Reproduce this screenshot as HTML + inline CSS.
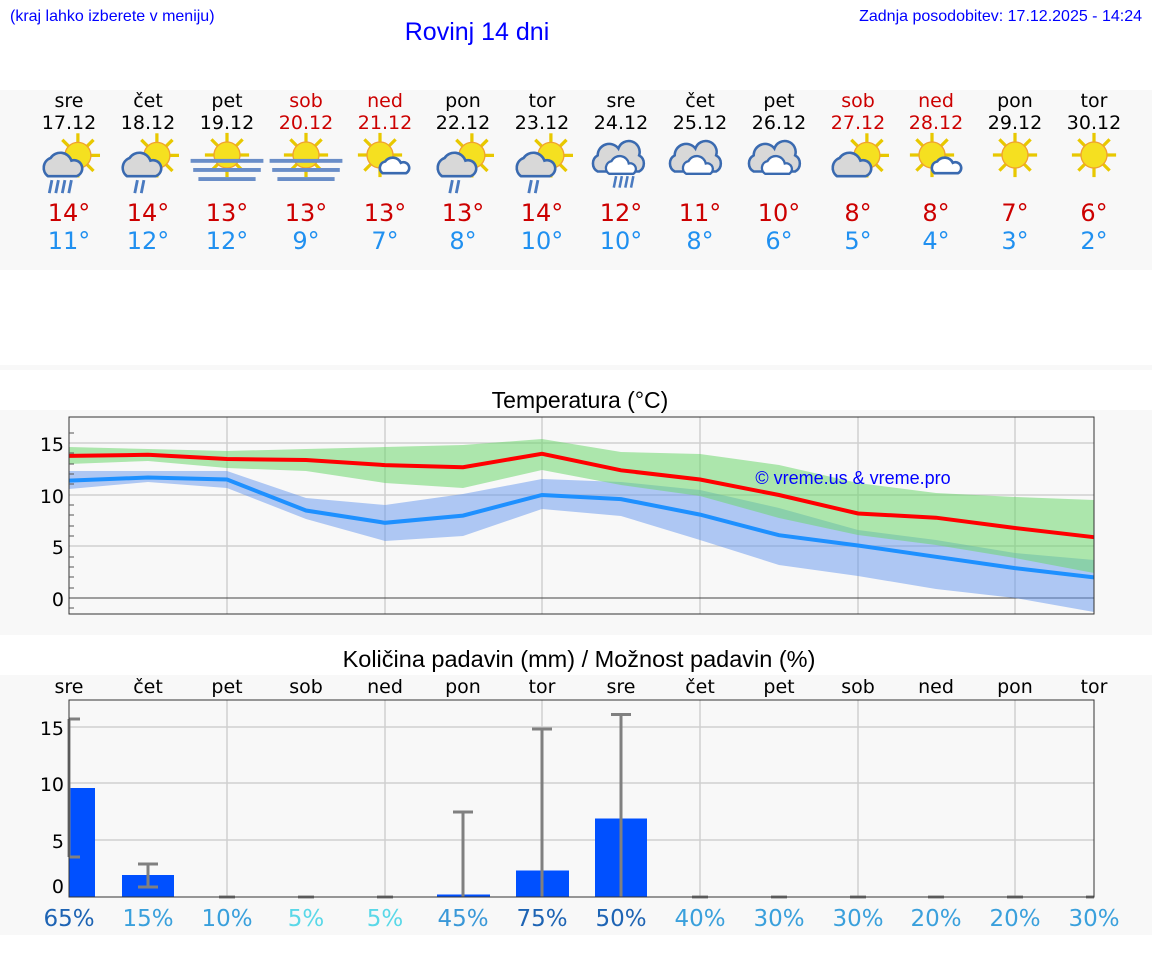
<!DOCTYPE html>
<html><head><meta charset="utf-8"><style>
body{margin:0;background:#fff;width:1152px;height:975px;overflow:hidden}
svg{display:block}
text{font-family:"DejaVu Sans","Liberation Sans",sans-serif}
</style></head><body>
<svg width="1152" height="975" viewBox="0 0 1152 975" xmlns="http://www.w3.org/2000/svg">
<defs>
<g id="sun"><g stroke="#e8c800" stroke-width="2.5"><line x1="0" y1="-17" x2="0" y2="17"/><line x1="-17" y1="0" x2="17" y2="0"/><line x1="-12" y1="-12" x2="12" y2="12"/><line x1="-12" y1="12" x2="12" y2="-12"/></g><circle r="10" fill="#f5e020" stroke="#f0a030" stroke-width="1"/></g>
<g id="cloudS"><path d="M-14,8 a8,8 0 0 1 2,-14 a9,9 0 0 1 16,2 a6,6 0 0 1 4,12 z" fill="#d8d8d8" stroke="#3a6ab0" stroke-width="2"/></g>
<g id="cloudB"><path d="M-22,10 a8,8 0 0 1 0,-14 a10,10 0 0 1 18,-6 a9,9 0 0 1 18,6 a8,8 0 0 1 0,14 z" fill="#d8d8d8" stroke="#3a6ab0" stroke-width="2.2"/><path d="M-12,12 a6,6 0 0 1 2,-11 a8,8 0 0 1 15,2 a5,5 0 0 1 4,9 z" fill="#fff" stroke="#3a6ab0" stroke-width="2"/></g>
<g id="cloudW"><path d="M-10,6 a5,5 0 0 1 2,-9 a7,7 0 0 1 12,1 a4,4 0 0 1 4,8 z" fill="#fff" stroke="#3a6ab0" stroke-width="2"/></g>
<g id="fog" fill="#6a8ec8"><rect x="-28" y="3" width="56" height="3"/><rect x="-26" y="10" width="52" height="3"/><rect x="-22" y="17" width="44" height="3"/></g>
<g id="rain" stroke="#4a7ac0" stroke-width="2.2"><line x1="-8" y1="12" x2="-10" y2="22"/><line x1="-3" y1="12" x2="-5" y2="22"/><line x1="2" y1="12" x2="0" y2="22"/><line x1="7" y1="12" x2="5" y2="22"/></g>
<g id="rain2" stroke="#4a7ac0" stroke-width="2.2"><line x1="-5" y1="12" x2="-7" y2="22"/><line x1="0" y1="12" x2="-2" y2="22"/></g>
</defs>
<rect x="0" y="90" width="1152" height="180" fill="#f8f8f8"/>
<rect x="0" y="365" width="1152" height="5" fill="#f8f8f8"/>
<rect x="0" y="410" width="1152" height="225" fill="#f8f8f8"/>
<rect x="0" y="675" width="1152" height="260" fill="#f8f8f8"/>
<text x="10" y="21" font-size="16" fill="#0000ff" style="font-family:'Liberation Sans',sans-serif">(kraj lahko izberete v meniju)</text>
<text x="477" y="40" font-size="25" fill="#0000ff" text-anchor="middle" style="font-family:'Liberation Sans',sans-serif">Rovinj 14 dni</text>
<text x="1142" y="21" font-size="16" fill="#0000ff" text-anchor="end" style="font-family:'Liberation Sans',sans-serif">Zadnja posodobitev: 17.12.2025 - 14:24</text>
<g font-size="19" text-anchor="middle">
<text x="69" y="107">sre</text><text x="148" y="107">čet</text><text x="227" y="107">pet</text><text x="306" y="107" fill="#cc0000">sob</text><text x="385" y="107" fill="#cc0000">ned</text><text x="463" y="107">pon</text><text x="542" y="107">tor</text><text x="621" y="107">sre</text><text x="700" y="107">čet</text><text x="779" y="107">pet</text><text x="858" y="107" fill="#cc0000">sob</text><text x="936" y="107" fill="#cc0000">ned</text><text x="1015" y="107">pon</text><text x="1094" y="107">tor</text>
<text x="69" y="129">17.12</text><text x="148" y="129">18.12</text><text x="227" y="129">19.12</text><text x="306" y="129" fill="#cc0000">20.12</text><text x="385" y="129" fill="#cc0000">21.12</text><text x="463" y="129">22.12</text><text x="542" y="129">23.12</text><text x="621" y="129">24.12</text><text x="700" y="129">25.12</text><text x="779" y="129">26.12</text><text x="858" y="129" fill="#cc0000">27.12</text><text x="936" y="129" fill="#cc0000">28.12</text><text x="1015" y="129">29.12</text><text x="1094" y="129">30.12</text>
</g>
<g transform="translate(74,158) scale(1.3)"><use href="#sun" x="3" y="-2"/><use href="#cloudS" x="-6" y="6"/><use href="#rain" x="-9" y="5"/></g>
<g transform="translate(153,158) scale(1.3)"><use href="#sun" x="3" y="-2"/><use href="#cloudS" x="-6" y="6"/><use href="#rain2" x="-7" y="5"/></g>
<g transform="translate(227,155) scale(1.3)"><use href="#sun"/><use href="#fog"/></g>
<g transform="translate(306,155) scale(1.3)"><use href="#sun"/><use href="#fog"/></g>
<g transform="translate(380,155) scale(1.3)"><use href="#sun"/><use href="#cloudW" x="12" y="8"/></g>
<g transform="translate(468,158) scale(1.3)"><use href="#sun" x="3" y="-2"/><use href="#cloudS" x="-6" y="6"/><use href="#rain2" x="-7" y="5"/></g>
<g transform="translate(547,158) scale(1.3)"><use href="#sun" x="3" y="-2"/><use href="#cloudS" x="-6" y="6"/><use href="#rain2" x="-7" y="5"/></g>
<g transform="translate(623,160) scale(1.15)"><use href="#cloudB"/><use href="#rain" x="2" y="2"/></g>
<g transform="translate(700,160) scale(1.15)"><use href="#cloudB"/></g>
<g transform="translate(779,160) scale(1.15)"><use href="#cloudB"/></g>
<g transform="translate(863,158) scale(1.3)"><use href="#sun" x="3" y="-2"/><use href="#cloudS" x="-6" y="6"/></g>
<g transform="translate(932,155) scale(1.3)"><use href="#sun"/><use href="#cloudW" x="12" y="8"/></g>
<g transform="translate(1015,155) scale(1.3)"><use href="#sun"/></g>
<g transform="translate(1094,155) scale(1.3)"><use href="#sun"/></g>
<g font-size="24" text-anchor="middle" fill="#cc0000">
<text x="69" y="221">14°</text><text x="148" y="221">14°</text><text x="227" y="221">13°</text><text x="306" y="221">13°</text><text x="385" y="221">13°</text><text x="463" y="221">13°</text><text x="542" y="221">14°</text><text x="621" y="221">12°</text><text x="700" y="221">11°</text><text x="779" y="221">10°</text><text x="858" y="221">8°</text><text x="936" y="221">8°</text><text x="1015" y="221">7°</text><text x="1094" y="221">6°</text>
</g>
<g font-size="24" text-anchor="middle" fill="#2090f0">
<text x="69" y="249">11°</text><text x="148" y="249">12°</text><text x="227" y="249">12°</text><text x="306" y="249">9°</text><text x="385" y="249">7°</text><text x="463" y="249">8°</text><text x="542" y="249">10°</text><text x="621" y="249">10°</text><text x="700" y="249">8°</text><text x="779" y="249">6°</text><text x="858" y="249">5°</text><text x="936" y="249">4°</text><text x="1015" y="249">3°</text><text x="1094" y="249">2°</text>
</g>
<text x="580" y="408" font-size="23" text-anchor="middle" style="font-family:'Liberation Sans',sans-serif">Temperatura (°C)</text>
<g stroke="#cfcfcf" stroke-width="1.5">
<line x1="69" y1="443" x2="1094" y2="443"/><line x1="69" y1="495" x2="1094" y2="495"/><line x1="69" y1="546" x2="1094" y2="546"/>
<line x1="227" y1="417" x2="227" y2="614"/><line x1="385" y1="417" x2="385" y2="614"/><line x1="542" y1="417" x2="542" y2="614"/><line x1="700" y1="417" x2="700" y2="614"/><line x1="858" y1="417" x2="858" y2="614"/><line x1="1015" y1="417" x2="1015" y2="614"/>
</g>
<line x1="69" y1="598" x2="1094" y2="598" stroke="#444" stroke-width="1"/>
<polygon fill="rgb(100,149,237)" fill-opacity="0.5" points="69,471 148,471 227,471 306,498 385,505 463,494 542,479 621,482 700,490 779,508 858,530 936,540 1015,553 1094,560 1094,612 1015,598 936,589 858,576 779,565 700,540 621,516 542,509 463,536 385,541 306,519 227,488 148,482 69,489"/>
<polygon fill="rgb(110,215,110)" fill-opacity="0.55" points="69,447 148,449 227,451 306,449 385,447 463,445 542,439 621,452 700,454 779,465 858,483 936,493 1015,497 1094,500 1094,573 1015,558 936,545 858,535 779,518 700,496 621,485 542,470 463,488 385,483 306,471 227,468 148,461 69,464"/>
<polyline fill="none" stroke="#ff0000" stroke-width="4" points="69,455.9 148,454.8 227,459 306,460 385,465.1 463,467.2 542,453.8 621,470.3 700,479.5 779,495 858,513.5 936,517.7 1015,528 1094,537.2"/>
<polyline fill="none" stroke="#1e90ff" stroke-width="4" points="69,480.6 148,477.5 227,479.5 306,510.5 385,522.8 463,515.6 542,495 621,499.1 700,514.6 779,535.2 858,545.5 936,556.8 1015,568.1 1094,577.4"/>
<text x="853" y="484" font-size="18" fill="#0000ff" text-anchor="middle" style="font-family:'Liberation Sans',sans-serif">© vreme.us &amp; vreme.pro</text>
<rect x="69" y="417" width="1025" height="197" fill="none" stroke="#333" stroke-width="1"/>
<g stroke="#555" stroke-width="1">
<line x1="69" y1="433" x2="74" y2="433"/><line x1="69" y1="453" x2="74" y2="453"/><line x1="69" y1="464" x2="74" y2="464"/><line x1="69" y1="474" x2="74" y2="474"/><line x1="69" y1="484" x2="74" y2="484"/><line x1="69" y1="505" x2="74" y2="505"/><line x1="69" y1="515" x2="74" y2="515"/><line x1="69" y1="526" x2="74" y2="526"/><line x1="69" y1="536" x2="74" y2="536"/><line x1="69" y1="557" x2="74" y2="557"/><line x1="69" y1="567" x2="74" y2="567"/><line x1="69" y1="577" x2="74" y2="577"/><line x1="69" y1="588" x2="74" y2="588"/><line x1="69" y1="608" x2="74" y2="608"/>
</g>
<g font-size="19" text-anchor="end"><text x="64" y="451">15</text><text x="64" y="503">10</text><text x="64" y="554">5</text><text x="64" y="606">0</text></g>
<text x="579" y="667" font-size="23.5" text-anchor="middle" style="font-family:'Liberation Sans',sans-serif">Količina padavin (mm) / Možnost padavin (%)</text>
<g font-size="19" text-anchor="middle">
<text x="69" y="693">sre</text><text x="148" y="693">čet</text><text x="227" y="693">pet</text><text x="306" y="693">sob</text><text x="385" y="693">ned</text><text x="463" y="693">pon</text><text x="542" y="693">tor</text><text x="621" y="693">sre</text><text x="700" y="693">čet</text><text x="779" y="693">pet</text><text x="858" y="693">sob</text><text x="936" y="693">ned</text><text x="1015" y="693">pon</text><text x="1094" y="693">tor</text>
</g>
<g stroke="#cfcfcf" stroke-width="1.5">
<line x1="69" y1="727" x2="1094" y2="727"/><line x1="69" y1="783" x2="1094" y2="783"/><line x1="69" y1="840" x2="1094" y2="840"/>
<line x1="227" y1="700" x2="227" y2="897"/><line x1="385" y1="700" x2="385" y2="897"/><line x1="542" y1="700" x2="542" y2="897"/><line x1="700" y1="700" x2="700" y2="897"/><line x1="858" y1="700" x2="858" y2="897"/><line x1="1015" y1="700" x2="1015" y2="897"/>
</g>
<g fill="#0050ff">
<rect x="69" y="788" width="26" height="109"/><rect x="122" y="875" width="52" height="22"/><rect x="437" y="894.5" width="53" height="3"/><rect x="516" y="870.5" width="53" height="27"/><rect x="595" y="818.5" width="52" height="79"/>
</g>
<g stroke="#808080" stroke-width="3">
<line x1="69" y1="719" x2="69" y2="857"/><line x1="69" y1="719" x2="80" y2="719"/><line x1="69" y1="857" x2="80" y2="857"/>
<line x1="148" y1="864" x2="148" y2="887"/><line x1="138" y1="864" x2="158" y2="864"/><line x1="138" y1="887" x2="158" y2="887"/>
<line x1="463" y1="812" x2="463" y2="897"/><line x1="453" y1="812" x2="473" y2="812"/>
<line x1="542" y1="729" x2="542" y2="897"/><line x1="532" y1="729" x2="552" y2="729"/>
<line x1="621" y1="714.5" x2="621" y2="897"/><line x1="611" y1="714.5" x2="631" y2="714.5"/>
<line x1="219" y1="897" x2="235" y2="897"/><line x1="298" y1="897" x2="314" y2="897"/><line x1="377" y1="897" x2="393" y2="897"/><line x1="692" y1="897" x2="708" y2="897"/><line x1="771" y1="897" x2="787" y2="897"/><line x1="850" y1="897" x2="866" y2="897"/><line x1="928" y1="897" x2="944" y2="897"/><line x1="1007" y1="897" x2="1023" y2="897"/><line x1="1086" y1="897" x2="1094" y2="897"/>
</g>
<rect x="69" y="700" width="1025" height="197" fill="none" stroke="#333" stroke-width="1"/>
<g font-size="19" text-anchor="end"><text x="64" y="735">15</text><text x="64" y="791">10</text><text x="64" y="848">5</text><text x="64" y="893">0</text></g>
<g font-size="23" text-anchor="middle">
<text x="69" y="926" fill="#1e64b4">65%</text><text x="148" y="926" fill="#3aa0dc">15%</text><text x="227" y="926" fill="#3aa0dc">10%</text><text x="306" y="926" fill="#5ad8e8">5%</text><text x="385" y="926" fill="#5ad8e8">5%</text><text x="463" y="926" fill="#3a98d8">45%</text><text x="542" y="926" fill="#1e64b4">75%</text><text x="621" y="926" fill="#1e64b4">50%</text><text x="700" y="926" fill="#3aa0dc">40%</text><text x="779" y="926" fill="#3aa0dc">30%</text><text x="858" y="926" fill="#3aa0dc">30%</text><text x="936" y="926" fill="#3aa0dc">20%</text><text x="1015" y="926" fill="#3aa0dc">20%</text><text x="1094" y="926" fill="#3aa0dc">30%</text>
</g>
</svg>
</body></html>
